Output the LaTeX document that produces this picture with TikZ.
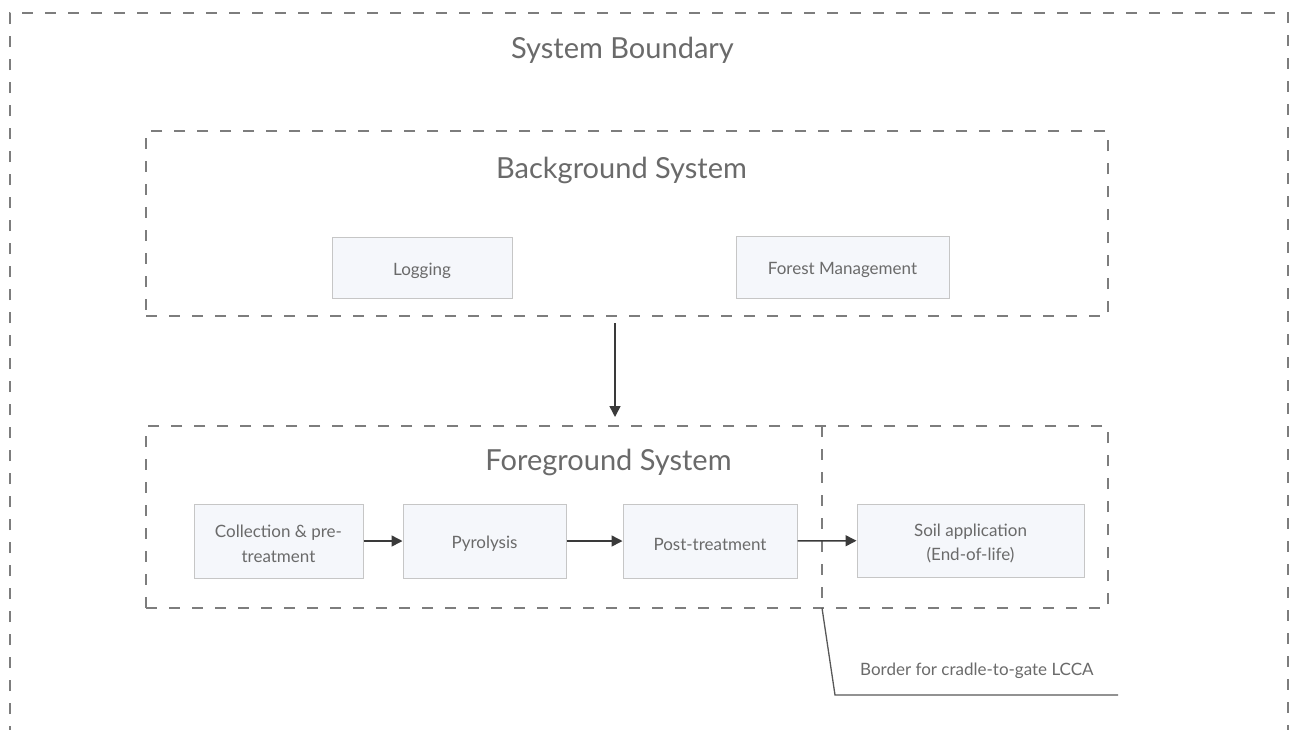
\documentclass[tikz,border=0pt]{standalone}
\usepackage{fontspec}
\setmainfont{Lato}
\usetikzlibrary{arrows.meta}
\definecolor{dashgray}{HTML}{7D7D7D}
\definecolor{textgray}{HTML}{6A6A6A}
\definecolor{boxfill}{HTML}{F5F7FB}
\definecolor{boxline}{HTML}{C6C6C6}
\definecolor{flowline}{HTML}{3A3A3A}
\tikzset{
  systembox/.style={draw=dashgray, line width=2pt, dash pattern=on 11pt off 12pt, inner sep=0pt},
  process/.style={draw=boxline, line width=1pt, fill=boxfill, inner sep=0pt},
  proctext/.style={align=center, text=textgray, inner sep=0pt, yshift=-3pt,
    font=\fontsize{17}{24.5}\selectfont},
  title/.style={text=textgray, font=\fontsize{29}{34}\selectfont, anchor=base, inner sep=0pt},
  flow/.style={draw=flowline, line width=1.5pt, -{Triangle[length=11pt,width=11pt]}},
  note/.style={text=textgray, font=\fontsize{17}{20}\selectfont, anchor=base west, inner sep=0pt}
}
\begin{document}
\begin{tikzpicture}[x=1pt,y=-1pt]
\useasboundingbox (0,0) rectangle (1297,729);
\clip (0,0) rectangle (1297,729);
\fill[white] (0,0) rectangle (1297,729);

% outer system boundary (open at the bottom of the sheet)
\draw[systembox] (10,760) -- (10,13) -- (1288,13) -- (1288,760);
\node[title] (sysb) at (622.5,58) {System Boundary};

% background system
\node[systembox, minimum width=962pt, minimum height=185pt] (bg) at (627,223.5) {};
\node[title] (bgt) at (621.5,178) {Background System};
\node[process, minimum width=180pt, minimum height=61pt,
  label={[proctext]center:Logging}] (log) at (422,267.5) {};
\node[process, minimum width=213pt, minimum height=62pt,
  label={[proctext]center:Forest Management}] (fm) at (842.5,267) {};

% foreground system
\node[systembox, minimum width=962pt, minimum height=182pt] (fg) at (627,517) {};
\coordinate (divtop) at (822,426);
\coordinate (divbot) at (822,608);
\draw[systembox] (divtop) -- (divbot);
\node[title] (fgt) at (608.5,470) {Foreground System};

\node[process, minimum width=169pt, minimum height=74pt,
  label={[proctext]center:Collection \& pre-\\treatment}] (col) at (278.5,541) {};
\node[process, minimum width=163pt, minimum height=74pt,
  label={[proctext]center:Pyrolysis}] (pyr) at (484.5,541) {};
\node[process, minimum width=174pt, minimum height=74pt,
  label={[proctext]center:Post-treatment}] (post) at (710,541) {};
\node[process, minimum width=227pt, minimum height=73pt,
  label={[proctext]center:Soil application\\(End-of-life)}] (soil) at (970.5,540.5) {};

% flows
\coordinate (ax) at (615,0);
\draw[flow, shorten <=6pt, shorten >=8pt] (bg.south -| ax) -- (fg.north -| ax);
\draw[flow] (col) -- (pyr);
\draw[flow] (pyr) -- (post);
\draw[flow] (post) -- (soil);

% cradle-to-gate border callout
\coordinate (bend) at (835,695);
\coordinate (tail) at (1118,695);
\draw[draw=flowline!85, line width=1.3pt] (divbot) -- (bend) -- (tail);
\node[note] (lcca) at (860,675) {Border for cradle-to-gate LCCA};
\end{tikzpicture}
\end{document}
